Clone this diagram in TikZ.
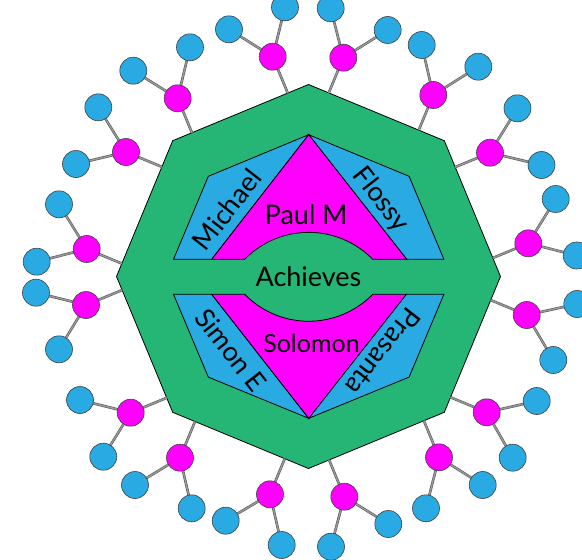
\documentclass[tikz,border=0pt]{standalone}
\usepackage{fontspec}
\setmainfont{Lato}
\usetikzlibrary{calc}
\pgfdeclarelayer{bg}
\pgfdeclarelayer{edges}
\pgfsetlayers{bg,edges,main}
\definecolor{octgreen}{RGB}{37,181,116}
\definecolor{skyblue}{RGB}{41,170,226}
\definecolor{magentafill}{RGB}{255,0,255}
\begin{document}
\begin{tikzpicture}[x=1pt,y=-1pt,
  conn/.style={draw=black!65, double=black!40, double distance=1.4pt, line width=0.6pt},
  pinknode/.style={circle, fill=magentafill, draw=black!75, line width=0.6pt, minimum size=27pt, inner sep=0pt},
  bluenode/.style={circle, fill=skyblue, draw=black!75, line width=0.6pt, minimum size=27pt, inner sep=0pt},
  region/.style={draw=black, line width=0.8pt, line join=miter},
  lbl/.style={font=\fontsize{27}{32}\selectfont, inner sep=0pt},
  lblsmall/.style={font=\fontsize{25}{30}\selectfont, inner sep=0pt}
]
\useasboundingbox (0,0) rectangle (582,560);
\clip (0,0) rectangle (582,560);

% outer octagon
\coordinate (T)  at (308.5,84.5);
\coordinate (UR) at (444.3,140.7);
\coordinate (R)  at (500.5,276.5);
\coordinate (LR) at (444.3,412.3);
\coordinate (B)  at (308.5,468.5);
\coordinate (LL) at (172.7,412.3);
\coordinate (L)  at (116.5,276.5);
\coordinate (UL) at (172.7,140.7);
\begin{pgfonlayer}{bg}
\draw[region, fill=octgreen] (T) -- (UR) -- (R) -- (LR) -- (B) -- (LL) -- (L) -- (UL) -- cycle;
\end{pgfonlayer}

% inner regions
\draw[region, fill=skyblue] (173.5,259.3) -- (208.3,176.3) -- (308.7,134.7) -- (211.7,259.3) -- cycle;
\draw[region, fill=skyblue] (308.7,134.7) -- (409.1,176.3) -- (443.9,259.3) -- (406.7,259.3) -- cycle;
\draw[region, fill=skyblue] (173.5,294.3) -- (208.3,377.1) -- (308.7,418.3) -- (211.7,294.3) -- cycle;
\draw[region, fill=skyblue] (443.9,294.3) -- (409.1,377.1) -- (308.7,418.3) -- (406.3,294.3) -- cycle;
\draw[region, fill=magentafill] (211.7,259.3) -- (308.7,134.7) -- (406.7,259.3) -- (372.7,259.3)
   arc[start angle=-44.3, end angle=-135.7, radius=89.4] -- cycle;
\draw[region, fill=magentafill] (211.7,294.3) -- (308.7,418.3) -- (406.3,294.3) -- (372.7,294.3)
   arc[start angle=44.3, end angle=135.7, radius=89.4] -- cycle;

% labels
\node[lbl, anchor=base] (paul) at (306,224) {Paul M};
\node[lbl, anchor=base] (ach) at (308.5,286.7) {Achieves};
\node[lblsmall, anchor=base] (sol) at (311.5,352.3) {Solomon};
\node[lbl, rotate=52] (mich) at (226.7,209.3) {Michael};
\node[lbl, rotate=-52] (flos) at (380.7,200) {Flossy};
\node[lbl, rotate=-52] (simon) at (230.7,350) {Simon E};
\node[lbl, rotate=232] (pras) at (383.3,351.7) {Prasanta};

% pink nodes
\node[pinknode] (p1)  at (272.7,56.7) {};
\node[pinknode] (p2)  at (343.3,57.7) {};
\node[pinknode] (p3)  at (433.3,95) {};
\node[pinknode] (p4)  at (490,152.7) {};
\node[pinknode] (p5)  at (528.3,243.3) {};
\node[pinknode] (p6)  at (526.7,315) {};
\node[pinknode] (p7)  at (486.7,412.3) {};
\node[pinknode] (p8)  at (439,457.3) {};
\node[pinknode] (p9)  at (344.3,496.7) {};
\node[pinknode] (p10) at (270,494.3) {};
\node[pinknode] (p11) at (180,457.7) {};
\node[pinknode] (p12) at (130.7,412.7) {};
\node[pinknode] (p13) at (86,305) {};
\node[pinknode] (p14) at (86.7,249) {};
\node[pinknode] (p15) at (126,152) {};
\node[pinknode] (p16) at (177.7,98.3) {};

% blue nodes
\node[bluenode] (b1a)  at (285,7.3) {};
\node[bluenode] (b1b)  at (229,29.3) {};
\node[bluenode] (b2a)  at (330.7,8.3) {};
\node[bluenode] (b2b)  at (387.7,30) {};
\node[bluenode] (b3a)  at (421.7,45) {};
\node[bluenode] (b3b)  at (478.3,66.7) {};
\node[bluenode] (b4a)  at (517.5,108.3) {};
\node[bluenode] (b4b)  at (541.5,165) {};
\node[bluenode] (b5a)  at (555.7,199) {};
\node[bluenode] (b5b)  at (576.7,255.5) {};
\node[bluenode] (b6a)  at (577.3,304) {};
\node[bluenode] (b6b)  at (553.3,360) {};
\node[bluenode] (b7a)  at (536.7,401) {};
\node[bluenode] (b7b)  at (512.7,457.7) {};
\node[bluenode] (b8a)  at (482.7,485) {};
\node[bluenode] (b8b)  at (426,508.3) {};
\node[bluenode] (b9a)  at (388.3,524) {};
\node[bluenode] (b9b)  at (331,546.7) {};
\node[bluenode] (b10a) at (281.7,545) {};
\node[bluenode] (b10b) at (225.7,520.7) {};
\node[bluenode] (b11a) at (191.7,508.3) {};
\node[bluenode] (b11b) at (135,485) {};
\node[bluenode] (b12a) at (103.3,456.7) {};
\node[bluenode] (b12b) at (80,400) {};
\node[bluenode] (b13a) at (59,349.3) {};
\node[bluenode] (b13b) at (36,292.7) {};
\node[bluenode] (b14a) at (36.7,261.7) {};
\node[bluenode] (b14b) at (59,204.3) {};
\node[bluenode] (b15a) at (76,164) {};
\node[bluenode] (b15b) at (98.3,107.3) {};
\node[bluenode] (b16a) at (133.3,70.7) {};
\node[bluenode] (b16b) at (190,47.3) {};

% attach points on the octagon
\coordinate (a1)  at ($(T)!(p1)!(UL)$);
\coordinate (a2)  at ($(T)!(p2)!(UR)$);
\coordinate (a3)  at ($(T)!(p3)!(UR)$);
\coordinate (a4)  at ($(UR)!(p4)!(R)$);
\coordinate (a5)  at ($(UR)!(p5)!(R)$);
\coordinate (a6)  at ($(R)!(p6)!(LR)$);
\coordinate (a7)  at ($(R)!(p7)!(LR)$);
\coordinate (a8)  at ($(LR)!(p8)!(B)$);
\coordinate (a9)  at ($(LR)!(p9)!(B)$);
\coordinate (a10) at ($(B)!(p10)!(LL)$);
\coordinate (a11) at ($(B)!(p11)!(LL)$);
\coordinate (a12) at ($(LL)!(p12)!(L)$);
\coordinate (a13) at ($(LL)!(p13)!(L)$);
\coordinate (a14) at ($(L)!(p14)!(UL)$);
\coordinate (a15) at ($(L)!(p15)!(UL)$);
\coordinate (a16) at ($(UL)!(p16)!(T)$);

\begin{pgfonlayer}{edges}
\foreach \i in {1,...,16} {
  \draw[conn] (p\i.center) -- (a\i);
  \draw[conn] (p\i.center) -- (b\i a.center);
  \draw[conn] (p\i.center) -- (b\i b.center);
}
\end{pgfonlayer}
\end{tikzpicture}
\end{document}
